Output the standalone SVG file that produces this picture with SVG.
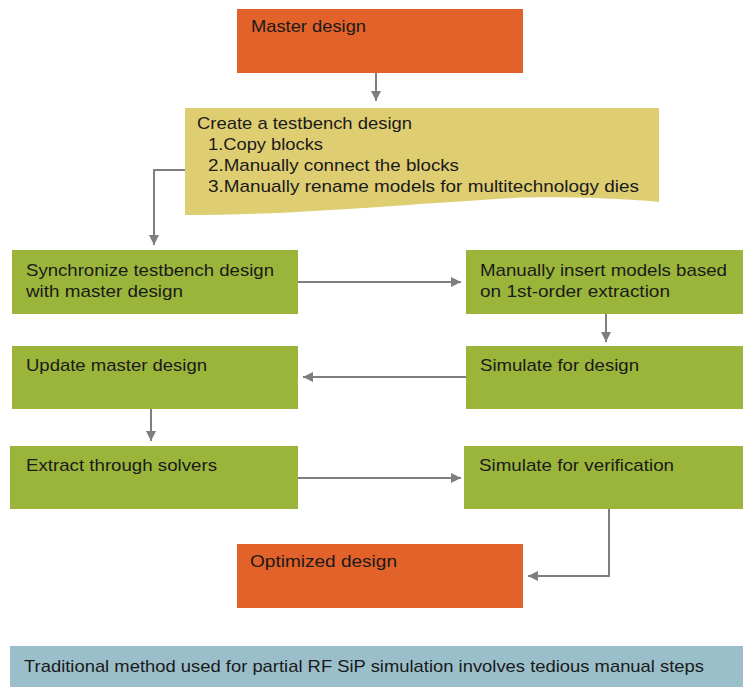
<svg xmlns="http://www.w3.org/2000/svg" width="743" height="687" viewBox="0 0 743 687">
<defs>
<marker id="ah" viewBox="0 0 10 10" refX="10" refY="5" markerWidth="10" markerHeight="10" markerUnits="userSpaceOnUse" orient="auto">
<path d="M0,0 L10,5 L0,10 Z" fill="#7d7d82"/>
</marker>
<style>
.or{fill:#e3622a}
.gr{fill:#9bb53b}
.ye{fill:#dfcd72}
.bl{fill:#9abfca}
.t{font-family:"Liberation Sans",Arial,sans-serif;font-size:17px;fill:#1a1a1a}
.c{fill:none;stroke:#7d7d82;stroke-width:2;marker-end:url(#ah)}
</style>
</defs>
<rect width="743" height="687" fill="#fff"/>
<g id="connectors">
<path class="c" d="M376,73 V101"/>
<path class="c" d="M185,170 H154 V245"/>
<path class="c" d="M298,282 H461"/>
<path class="c" d="M606,314 V342"/>
<path class="c" d="M466,377 H303"/>
<path class="c" d="M151,409 V441"/>
<path class="c" d="M298,478 H461"/>
<path class="c" d="M609,509 V576 H528"/>
</g>
<g id="master">
<rect class="or" x="237" y="9" width="286" height="64"/>
<text class="t" x="251" y="32" textLength="115" lengthAdjust="spacingAndGlyphs">Master design</text>
</g>
<g id="testbench">
<path class="ye" d="M185,108 H659 V202 C630,199 560,196 513,198 C420,203 300,215 185,215 Z"/>
<text class="t" x="197" y="129" textLength="215" lengthAdjust="spacingAndGlyphs">Create a testbench design</text>
<text class="t" x="208" y="150" textLength="115" lengthAdjust="spacingAndGlyphs">1.Copy blocks</text>
<text class="t" x="208" y="171" textLength="251" lengthAdjust="spacingAndGlyphs">2.Manually connect the blocks</text>
<text class="t" x="208" y="192" textLength="431" lengthAdjust="spacingAndGlyphs">3.Manually rename models for multitechnology dies</text>
</g>
<g id="sync">
<rect class="gr" x="12" y="250" width="286" height="64"/>
<text class="t" x="26" y="276" textLength="248" lengthAdjust="spacingAndGlyphs">Synchronize testbench design</text>
<text class="t" x="26" y="297" textLength="157" lengthAdjust="spacingAndGlyphs">with master design</text>
</g>
<g id="insert">
<rect class="gr" x="466" y="250" width="277" height="64"/>
<text class="t" x="480" y="276" textLength="247" lengthAdjust="spacingAndGlyphs">Manually insert models based</text>
<text class="t" x="480" y="297" textLength="190" lengthAdjust="spacingAndGlyphs">on 1st-order extraction</text>
</g>
<g id="update">
<rect class="gr" x="12" y="346" width="286" height="63"/>
<text class="t" x="26" y="371" textLength="181" lengthAdjust="spacingAndGlyphs">Update master design</text>
</g>
<g id="simdesign">
<rect class="gr" x="466" y="346" width="277" height="63"/>
<text class="t" x="480" y="371" textLength="159" lengthAdjust="spacingAndGlyphs">Simulate for design</text>
</g>
<g id="extract">
<rect class="gr" x="10" y="446" width="288" height="63"/>
<text class="t" x="26" y="471" textLength="191" lengthAdjust="spacingAndGlyphs">Extract through solvers</text>
</g>
<g id="simverif">
<rect class="gr" x="464" y="446" width="279" height="63"/>
<text class="t" x="479" y="471" textLength="195" lengthAdjust="spacingAndGlyphs">Simulate for verification</text>
</g>
<g id="optimized">
<rect class="or" x="237" y="544" width="286" height="64"/>
<text class="t" x="250" y="567" textLength="147" lengthAdjust="spacingAndGlyphs">Optimized design</text>
</g>
<g id="caption">
<rect class="bl" x="10" y="646" width="733" height="41"/>
<text class="t" x="24" y="672" textLength="680" lengthAdjust="spacingAndGlyphs">Traditional method used for partial RF SiP simulation involves tedious manual steps</text>
</g>
</svg>
